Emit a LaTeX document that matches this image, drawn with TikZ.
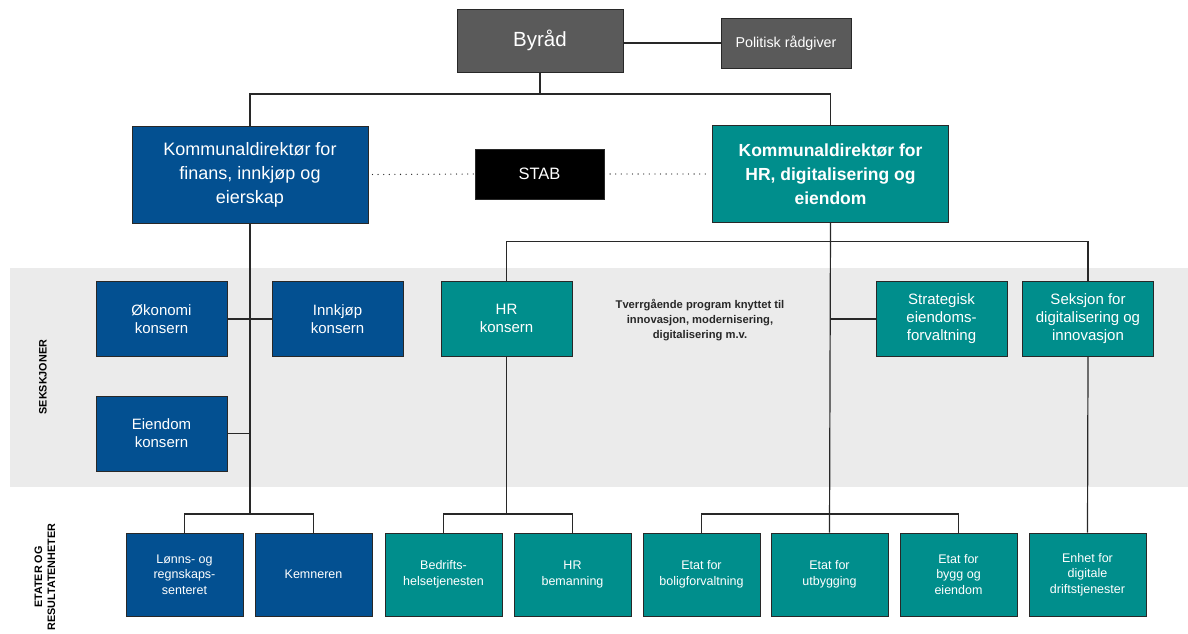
\documentclass[tikz,border=0pt]{standalone}
\usepackage{fontspec}
\setmainfont{Liberation Sans}
\definecolor{orgblue}{RGB}{3,80,145}
\definecolor{orgteal}{RGB}{0,142,140}
\definecolor{orggrey}{RGB}{90,90,90}
\definecolor{bandgrey}{RGB}{235,235,235}
\definecolor{linedark}{RGB}{40,40,40}
\tikzset{
  box/.style={draw=linedark, line width=1pt, text=white, align=center, inner sep=0pt},
  bluebox/.style={box, fill=orgblue},
  tealbox/.style={box, fill=orgteal},
  greybox/.style={box, fill=orggrey},
  blackbox/.style={box, fill=black},
  director/.style={minimum width=236pt, minimum height=97pt, font=\fontsize{18}{24}\selectfont},
  section/.style={minimum width=131pt, minimum height=75pt, font=\fontsize{15}{18}\selectfont},
  unitbox/.style={minimum width=117pt, minimum height=83pt, font=\fontsize{12.5}{15.5}\selectfont},
  conn/.style={draw=linedark, line width=1.2pt},
  stafflink/.style={draw=linedark, line width=1.3pt, line cap=round, dash pattern=on 0pt off 5.6pt},
  sidelabel/.style={rotate=90, align=center, font=\bfseries\fontsize{10.8}{13}\selectfont, text=black}
}
\begin{document}
\begin{tikzpicture}[x=1pt, y=-1pt]
\useasboundingbox (0,0) rectangle (1188,633);
\fill[white] (0,0) rectangle (1188,633);
% grey band behind the section level
\fill[bandgrey] (10,268) rectangle (1188,487);

% top level
\node[greybox, minimum width=166pt, minimum height=63pt, font=\fontsize{20.5}{24}\selectfont] (byrad) at (540,40.5) {Byråd};
\node[greybox, minimum width=130pt, minimum height=50pt, font=\fontsize{14.3}{17}\selectfont] (politisk) at (786,43) {Politisk rådgiver};

% directors and staff
\node[bluebox, director] (dirA) at (250,174.5) {Kommunaldirektør for\\finans, innkjøp og\\eierskap};
\node[blackbox, minimum width=129pt, minimum height=50pt, font=\fontsize{16.5}{19}\selectfont] (stab) at (539.5,174) {STAB};
\node[tealbox, director, font=\bfseries\fontsize{17.5}{24}\selectfont] (dirB) at (830.5,174) {Kommunaldirektør for\\HR, digitalisering og\\eiendom};

% sections
\node[bluebox, section] (okon) at (161.5,319) {Økonomi\\konsern};
\node[bluebox, section] (innkjop) at (337.5,319) {Innkjøp\\konsern};
\node[bluebox, section] (eiendom) at (161.5,433.5) {Eiendom\\konsern};
\node[tealbox, section] (hr) at (506.5,318.5) {HR\\konsern};
\node[align=center, text=linedark, font=\bfseries\fontsize{11.2}{15}\selectfont] (tverr) at (700,320) {Tverrgående program knyttet til\\innovasjon, modernisering,\\digitalisering m.v.};
\node[tealbox, section] (strat) at (941.5,319) {Strategisk\\eiendoms-\\forvaltning};
\node[tealbox, section] (seksjon) at (1088,319) {Seksjon for\\digitalisering og\\innovasjon};

% units
\node[bluebox, unitbox] (lonn) at (184.5,574.5) {Lønns- og\\regnskaps-\\senteret};
\node[bluebox, unitbox] (kemn) at (313.5,574.5) {Kemneren};
\node[tealbox, unitbox] (bedr) at (443.5,574.5) {Bedrifts-\\helsetjenesten};
\node[tealbox, unitbox] (hrbem) at (572.5,574.5) {HR\\bemanning};
\node[tealbox, unitbox] (bolig) at (701.5,574.5) {Etat for\\boligforvaltning};
\node[tealbox, unitbox] (utb) at (829.5,574.5) {Etat for\\utbygging};
\node[tealbox, unitbox] (bygg) at (958.5,574.5) {Etat for\\bygg og\\eiendom};
\node[tealbox, unitbox] (enhet) at (1087.5,574.5) {Enhet for\\digitale\\driftstjenester};

% level labels
\node[sidelabel] (lblsek) at (43,377) {SEKSKJONER};
\node[sidelabel] (lbletat) at (45,577) {ETATER OG\\RESULTATENHETER};

% junction points
\coordinate (topbus) at (540,94);
\coordinate (lbus) at (250,514);
\coordinate (hbus) at (506.5,514);
\coordinate (mbus) at (830.5,241.5);
\coordinate (rbus) at (830.5,514);
\coordinate (sjoin) at (830.5,319);
\coordinate (ejoin) at (250,433.5);

% connectors
\draw[conn] (politisk.west) -- (politisk.west -| byrad.east);
\draw[conn] (byrad.south) -- (topbus) -| (dirA.north);
\draw[conn] (topbus) -| (dirB.north);
\draw[stafflink] ([xshift=4pt]dirA.east) -- (stab.west);
\draw[stafflink] (stab.east) -- ([xshift=-2pt]dirB.west);

\draw[conn] (dirA.south) -- (lbus);
\draw[conn] (okon.east) -- (innkjop.west);
\draw[conn] (eiendom.east) -- (ejoin);
\draw[conn] (lonn.north) |- (lbus) -| (kemn.north);

\draw[conn] (dirB.south) -- (utb.north);
\draw[conn] (hr.north) |- (mbus) -| (seksjon.north);
\draw[conn] (sjoin) -- (strat.west);
\draw[conn] (hr.south) -- (hbus);
\draw[conn] (bedr.north) |- (hbus) -| (hrbem.north);
\draw[conn] (bolig.north) |- (rbus) -| (bygg.north);
\draw[conn] (seksjon.south) -- (enhet.north);
\end{tikzpicture}
\end{document}
